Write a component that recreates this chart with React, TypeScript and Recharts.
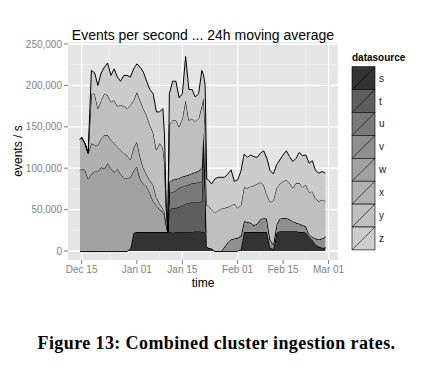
import React from "react";
import { AreaChart, Area, XAxis, YAxis, CartesianGrid } from "recharts";

// days after Dec 15; values in thousands of events/s (24h moving average)
const days = [
  -0.5, 0, 1, 2, 3, 4, 5, 6, 7, 8, 9, 10, 11, 12, 13, 14, 15, 16, 17, 18, 19, 20, 21, 22, 23, 24, 25,
  25.5, 26, 26.5, 27, 28, 29, 30, 31, 32, 33, 34, 35, 36, 37, 37.5, 38, 38.5,
  39, 40, 41, 42, 43, 44, 45, 46, 47, 48, 49, 50, 51, 52, 53, 54, 55, 56, 57, 58, 59, 60,
  61, 62, 63, 64, 65, 66, 67, 68, 69, 70, 71, 72, 73, 74, 75,
];

const sVals = [
  0, 0, 0, 0, 0, 0, 0, 0, 0, 0, 0, 0, 0, 0, 0, 0, 3, 22, 23, 23, 23, 23, 23, 23, 23, 23, 23,
  23, 23, 23, 23, 22, 23, 23, 23, 23, 23, 23, 24, 24, 23, 23, 22, 5,
  4, 3, 0, 0, 0, 0, 0, 0, 0, 0, 2, 23, 23, 23, 23, 23, 23, 23, 23, 4, 2, 22,
  24, 24, 24, 24, 24, 24, 23, 23, 22, 17, 13, 8, 5, 4, 4,
];
const tVals = [
  0, 0, 0, 0, 0, 0, 0, 0, 0, 0, 0, 0, 0, 0, 0, 0, 0, 0, 0, 0, 0, 0, 0, 0, 0, 0, 0,
  0, 0, 0, 27, 30, 29, 30, 32, 34, 35, 36, 35, 35, 37, 110, 60, 0,
  0, 0, 0, 0, 0, 0, 0, 0, 0, 0, 0, 0, 0, 0, 0, 0, 0, 0, 0, 0, 0, 0,
  0, 0, 0, 0, 0, 0, 0, 0, 0, 0, 0, 0, 0, 0, 0,
];
const uVals = [
  0, 0, 0, 0, 0, 0, 0, 0, 0, 0, 0, 0, 0, 0, 0, 0, 0, 0, 0, 0, 0, 0, 0, 0, 0, 0, 0,
  0, 0, 0, 20, 19, 21, 23, 23, 22, 22, 23, 23, 24, 24, 5, 5, 0,
  0, 0, 0, 0, 0, 0, 0, 0, 0, 0, 0, 0, 0, 0, 0, 0, 0, 0, 0, 0, 0, 0,
  0, 0, 0, 0, 0, 0, 0, 0, 0, 0, 0, 0, 0, 0, 0,
];
const vVals = [
  0, 0, 0, 0, 0, 0, 0, 0, 0, 0, 0, 0, 0, 0, 0, 0, 0, 0, 0, 0, 0, 0, 0, 0, 0, 0, 0,
  0, 0, 0, 13, 15, 14, 12, 12, 12, 12, 12, 13, 14, 16, 5, 5, 0,
  0, 0, 0, 0, 0, 5, 11, 14, 15, 16, 16, 13, 12, 11, 8, 10, 15, 17, 16, 10, 6, 10,
  15, 16, 16, 14, 12, 10, 10, 8, 8, 3, 4, 7, 9, 11, 13,
];
const wVals = [
  97, 99, 98, 87, 93, 96, 96, 101, 99, 106, 100, 95, 99, 93, 88, 88, 86, 75, 79, 64, 58, 55, 47, 37, 32, 27, 24,
  20, 8, 0, 0, 0, 0, 0, 0, 0, 0, 0, 0, 0, 0, 0, 0, 0,
  0, 0, 0, 0, 0, 0, 0, 0, 0, 0, 0, 0, 0, 0, 0, 0, 0, 0, 0, 0, 0, 0,
  0, 0, 0, 0, 0, 0, 0, 0, 0, 0, 0, 0, 0, 0, 0,
];
const xVals = [
  38, 38, 32, 31, 37, 32, 32, 35, 41, 34, 34, 35, 27, 29, 30, 27, 21, 28, 30, 27, 19, 14, 15, 20, 10, 7, 4,
  4, 2, 0, 0, 0, 0, 0, 0, 0, 0, 0, 0, 0, 0, 0, 0, 0,
  0, 0, 0, 0, 0, 0, 0, 0, 0, 0, 0, 0, 0, 0, 0, 0, 0, 0, 0, 0, 0, 0,
  0, 0, 0, 0, 0, 0, 0, 0, 0, 0, 0, 0, 0, 0, 0,
];
const yVals = [
  0, 0, 0, 0, 60, 62, 44, 46, 50, 48, 46, 52, 49, 54, 57, 57, 66, 57, 60, 68, 72, 72, 67, 63, 57, 73, 74,
  60, 20, 0, 69, 72, 71, 62, 70, 91, 66, 66, 61, 63, 75, 42, 60, 50,
  51, 47, 46, 49, 51, 47, 42, 41, 42, 36, 37, 41, 41, 44, 48, 48, 45, 40, 29, 45, 53, 44,
  42, 44, 46, 44, 40, 48, 49, 46, 50, 51, 55, 48, 46, 47, 43,
];
const zVals = [
  0, 0, 0, 0, 28, 25, 28, 33, 32, 39, 32, 38, 35, 29, 37, 40, 34, 38, 34, 40, 44, 41, 43, 47, 46, 38, 47,
  33, 7, 0, 38, 47, 47, 35, 30, 53, 37, 35, 30, 30, 43, 28, 48, 32,
  31, 31, 41, 40, 38, 37, 40, 43, 27, 34, 41, 40, 37, 38, 35, 32, 35, 41, 44, 38, 32, 28,
  29, 32, 35, 32, 32, 30, 37, 38, 36, 35, 37, 34, 34, 34, 34,
];

const sources = ["s", "t", "u", "v", "w", "x", "y", "z"];
const greys = ["#333333", "#5E5E5E", "#797979", "#8F8F8F", "#A1A1A1", "#B0B0B0", "#BFBFBF", "#CCCCCC"];

const dateTicks = [0, 17, 31, 48, 62, 76];
const dateLabels = ["Dec 15", "Jan 01", "Jan 15", "Feb 01", "Feb 15", "Mar 01"];
const dateMinor = [8.5, 24, 39.5, 55, 69];
const rateTicks = [0, 50000, 100000, 150000, 200000, 250000];
const rateMinor = [25000, 75000, 125000, 175000, 225000];

const seriesVals = [sVals, tVals, uVals, vVals, wVals, xVals, yVals, zVals];
const rows = days.map((day, i) => {
  const row: Record<string, number> = { day };
  sources.forEach((name, k) => (row[name] = seriesVals[k][i] * 1000));
  return row;
});

const FONT = "'Liberation Sans', Arial, Helvetica, sans-serif";
const tickStyle = { fontSize: 10, fill: "#7F7F7F", fontFamily: FONT };

export default function App() {
  return (
    <div style={{ position: "absolute", left: 0, top: 0, width: 443, height: 368, background: "#fff", fontFamily: FONT }}>
      <AreaChart width={443} height={300} data={rows} margin={{ top: 42, right: 105, bottom: 0, left: 0 }}>
        <CartesianGrid fill="#E5E5E5" stroke="#F2F2F2" strokeWidth={0.7}
          horizontalValues={rateMinor} verticalValues={dateMinor} />
        <CartesianGrid fill="none" stroke="#FFFFFF" strokeWidth={1.3}
          horizontalValues={rateTicks} verticalValues={dateTicks} />
        <XAxis dataKey="day" type="number" domain={[-4.2, 78.9]} ticks={dateTicks} height={40}
          tickFormatter={(v) => dateLabels[dateTicks.indexOf(v)]} tick={tickStyle}
          tickLine={{ stroke: "#7F7F7F" }} tickSize={4} axisLine={false}
          label={{ content: () => <text x={203} y={287} textAnchor="middle" fontSize={12} fill="#000" fontFamily={FONT}>time</text> }} />
        <YAxis type="number" domain={[-10870, 252400]} ticks={rateTicks} width={68}
          tickFormatter={(v) => v.toLocaleString("en-US")} tick={tickStyle}
          tickLine={{ stroke: "#7F7F7F" }} tickSize={4} axisLine={false}
          label={{ content: () => <text x={18} y={151} transform="rotate(-90 18 151)" textAnchor="middle" dominantBaseline="central" fontSize={12} fill="#000" fontFamily={FONT}>events / s</text> }} />
        {sources.map((name, k) => (
          <Area key={name} type="linear" dataKey={name} stackId="rate" fill={greys[k]} fillOpacity={1}
            stroke="#000" strokeWidth={1} dot={false} activeDot={false} isAnimationActive={false} />
        ))}
      </AreaChart>
      <svg width={443} height={368} style={{ position: "absolute", left: 0, top: 0, pointerEvents: "none" }}>
        <text x={203} y={40} textAnchor="middle" fontSize={14} fill="#000" fontFamily={FONT}>
          Events per second ... 24h moving average
        </text>
        <text x={352} y={61} fontSize={10} fontWeight="bold" fill="#000" fontFamily={FONT}>datasource</text>
        {sources.map((name, k) => {
          const h = 22.9;
          const y = 66.7 + k * h;
          return (
            <g key={name}>
              <rect x={352} y={y} width={23} height={h} fill={greys[k]} stroke="#000" strokeWidth={0.6} />
              <line x1={352} y1={y + h} x2={375} y2={y} stroke="#000" strokeWidth={0.6} />
              <text x={379} y={y + h / 2 + 3.5} fontSize={10} fill="#222" fontFamily={FONT}>{name}</text>
            </g>
          );
        })}
        <text x={216.5} y={349} textAnchor="middle" fontSize={18} fontWeight="bold" letterSpacing={0.4}
          fill="#000" fontFamily="'Liberation Serif', 'Times New Roman', serif">
          Figure 13: Combined cluster ingestion rates.
        </text>
      </svg>
    </div>
  );
}
